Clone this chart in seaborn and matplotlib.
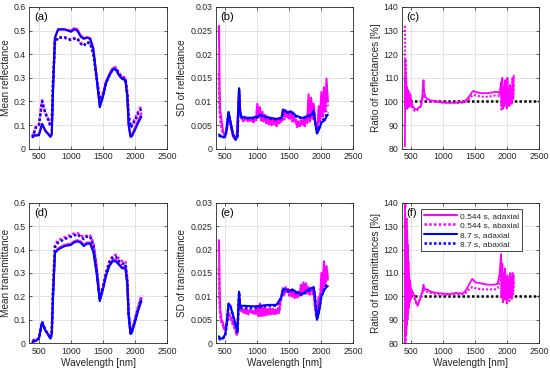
import numpy as np
import pandas as pd
import matplotlib
matplotlib.use("Agg")
import matplotlib.pyplot as plt
import seaborn as sns

# ---------------- data ----------------
wl_m = [400, 450, 500, 550, 600, 650, 680, 700, 720, 750, 800, 900, 1000, 1050, 1100,
        1150, 1200, 1250, 1300, 1350, 1400, 1450, 1500, 1550, 1600, 1650, 1700, 1750,
        1800, 1850, 1880, 1900, 1930, 1950, 2000, 2050, 2100]

refl_blue_ad = [0.055, 0.055, 0.057, 0.105, 0.075, 0.06, 0.05, 0.06, 0.25, 0.47, 0.505, 0.505,
                0.495, 0.505, 0.50, 0.475, 0.465, 0.47, 0.465, 0.42, 0.30, 0.175, 0.22, 0.28,
                0.31, 0.335, 0.335, 0.31, 0.295, 0.29, 0.22, 0.10, 0.05, 0.052, 0.08, 0.11, 0.135]
refl_mag_ad = [0.06, 0.058, 0.06, 0.105, 0.078, 0.062, 0.052, 0.062, 0.25, 0.47, 0.505, 0.505,
               0.50, 0.51, 0.505, 0.48, 0.468, 0.472, 0.468, 0.425, 0.305, 0.18, 0.225, 0.285,
               0.315, 0.34, 0.34, 0.315, 0.30, 0.295, 0.225, 0.105, 0.055, 0.058, 0.088, 0.12, 0.15]
refl_blue_ab = [0.045, 0.09, 0.10, 0.20, 0.15, 0.12, 0.095, 0.10, 0.28, 0.45, 0.47, 0.47,
                0.46, 0.465, 0.465, 0.445, 0.435, 0.45, 0.445, 0.40, 0.30, 0.205, 0.23, 0.28,
                0.31, 0.335, 0.34, 0.315, 0.30, 0.295, 0.23, 0.14, 0.09, 0.095, 0.12, 0.15, 0.17]
refl_mag_ab = [0.05, 0.092, 0.102, 0.205, 0.152, 0.122, 0.098, 0.102, 0.28, 0.45, 0.472, 0.472,
               0.462, 0.468, 0.468, 0.448, 0.438, 0.452, 0.448, 0.405, 0.305, 0.21, 0.235, 0.285,
               0.315, 0.34, 0.345, 0.32, 0.305, 0.30, 0.235, 0.145, 0.095, 0.10, 0.128, 0.158, 0.182]

tran_blue_ad = [0.005, 0.01, 0.02, 0.09, 0.055, 0.035, 0.02, 0.04, 0.20, 0.385, 0.40, 0.415,
                0.42, 0.43, 0.435, 0.43, 0.415, 0.425, 0.425, 0.39, 0.30, 0.18, 0.23, 0.29,
                0.33, 0.35, 0.35, 0.335, 0.32, 0.32, 0.25, 0.12, 0.04, 0.045, 0.09, 0.14, 0.18]
tran_mag_ad = [0.008, 0.012, 0.022, 0.09, 0.056, 0.036, 0.022, 0.042, 0.205, 0.39, 0.405, 0.42,
               0.425, 0.435, 0.44, 0.435, 0.42, 0.43, 0.43, 0.395, 0.305, 0.185, 0.235, 0.295,
               0.335, 0.355, 0.357, 0.34, 0.325, 0.325, 0.255, 0.125, 0.042, 0.048, 0.095, 0.145, 0.19]
tran_blue_ab = [0.01, 0.012, 0.02, 0.09, 0.055, 0.035, 0.02, 0.04, 0.22, 0.41, 0.43, 0.445,
                0.455, 0.46, 0.465, 0.455, 0.445, 0.455, 0.455, 0.42, 0.32, 0.19, 0.24, 0.30,
                0.345, 0.365, 0.37, 0.35, 0.34, 0.34, 0.265, 0.13, 0.045, 0.05, 0.10, 0.15, 0.195]
tran_mag_ab = [0.015, 0.014, 0.022, 0.092, 0.057, 0.037, 0.022, 0.042, 0.225, 0.42, 0.44, 0.452,
               0.462, 0.468, 0.47, 0.462, 0.452, 0.46, 0.46, 0.428, 0.33, 0.195, 0.245, 0.305,
               0.35, 0.372, 0.378, 0.36, 0.35, 0.35, 0.275, 0.135, 0.048, 0.055, 0.105, 0.158, 0.205]

# SD: early part + noisy part (760..2100 every 20 nm)
wl_sd_early = [400, 405, 410, 420, 440, 460, 480, 500, 520, 550, 570, 600, 630, 660, 680,
               700, 715, 730, 750]
wl_sd_noisy = list(range(760, 2101, 20))

sdR_mag_ad = [0.026, 0.020, 0.012, 0.008, 0.006, 0.004, 0.003, 0.003, 0.004, 0.0075, 0.006, 0.004,
              0.0025, 0.002, 0.003, 0.008, 0.012, 0.008, 0.0066,
              0.0066, 0.0060, 0.0068, 0.0062, 0.0065, 0.0058, 0.0066, 0.0061, 0.0064, 0.0057, 0.0066, 0.0062,
              0.0095, 0.0070, 0.0088, 0.0062, 0.0078, 0.0058, 0.0072, 0.0056, 0.0068, 0.0055,
              0.0066, 0.0052, 0.0064, 0.0055, 0.0063, 0.0050, 0.0062, 0.0054, 0.0065, 0.0058,
              0.0080, 0.0068, 0.0082, 0.0070, 0.0078, 0.0066, 0.0080, 0.0064, 0.0070, 0.0060,
              0.0062, 0.0050, 0.0058, 0.0048, 0.0060, 0.0052, 0.0064, 0.0050, 0.0066, 0.0058,
              0.0115, 0.0062, 0.0108, 0.0070, 0.0095, 0.0060, 0.0050, 0.0045, 0.0090, 0.0060,
              0.0120, 0.0070, 0.0130, 0.0080, 0.0148, 0.0100]
sdR_mag_ab = [0.016, 0.012, 0.008, 0.006, 0.0045, 0.0035, 0.003, 0.003, 0.004, 0.007, 0.0058, 0.0038,
              0.0024, 0.0019, 0.0028, 0.0075, 0.0115, 0.0078, 0.0064,
              0.0064, 0.0058, 0.0065, 0.0060, 0.0063, 0.0056, 0.0064, 0.0059, 0.0062, 0.0056, 0.0064, 0.0060,
              0.0085, 0.0065, 0.0078, 0.0060, 0.0070, 0.0056, 0.0068, 0.0054, 0.0064, 0.0052,
              0.0060, 0.0050, 0.0060, 0.0052, 0.0060, 0.0048, 0.0058, 0.0052, 0.0062, 0.0056,
              0.0072, 0.0062, 0.0075, 0.0064, 0.0072, 0.0060, 0.0070, 0.0058, 0.0064, 0.0054,
              0.0056, 0.0046, 0.0054, 0.0045, 0.0056, 0.0048, 0.0060, 0.0048, 0.0062, 0.0055,
              0.0100, 0.0058, 0.0098, 0.0064, 0.0088, 0.0055, 0.0046, 0.0042, 0.0080, 0.0055,
              0.0110, 0.0065, 0.0115, 0.0075, 0.0125, 0.0090]

wl_sd_blue = [400, 420, 450, 480, 500, 520, 550, 580, 620, 660, 690, 705, 715, 730, 750, 800,
              900, 1000, 1050, 1100, 1200, 1300, 1380, 1400, 1450, 1500, 1550, 1600, 1700,
              1800, 1850, 1880, 1900, 1930, 1960, 2000, 2050, 2080, 2100]
sdR_blue_ad = [0.003, 0.0028, 0.0025, 0.0025, 0.0027, 0.004, 0.0078, 0.0058, 0.003, 0.002, 0.0025,
               0.009, 0.0128, 0.008, 0.0067, 0.0066, 0.0065, 0.0068, 0.0072, 0.0069, 0.0065, 0.0063,
               0.0066, 0.0083, 0.0078, 0.0078, 0.0077, 0.0070, 0.0065, 0.0070, 0.0072, 0.0080,
               0.0060, 0.0032, 0.0040, 0.0055, 0.0060, 0.0068, 0.0072]
sdR_blue_ab = [0.0028, 0.0026, 0.0024, 0.0024, 0.0026, 0.0038, 0.0075, 0.0056, 0.0029, 0.0019,
               0.0024, 0.0088, 0.0125, 0.0078, 0.0066, 0.0065, 0.0064, 0.0066, 0.0070, 0.0068,
               0.0064, 0.0062, 0.0065, 0.0080, 0.0076, 0.0076, 0.0075, 0.0068, 0.0064, 0.0068,
               0.0070, 0.0078, 0.0058, 0.0034, 0.0042, 0.0058, 0.0064, 0.0072, 0.0078]

sdT_mag_ad = [0.022, 0.018, 0.012, 0.007, 0.005, 0.0045, 0.003, 0.003, 0.004, 0.0065, 0.006, 0.005,
              0.004, 0.003, 0.0018, 0.006, 0.010, 0.0075, 0.0072,
              0.0072, 0.0066, 0.0073, 0.0067, 0.0071, 0.0065, 0.0072, 0.0066, 0.0070, 0.0064, 0.0071, 0.0066,
              0.0080, 0.0062, 0.0085, 0.0058, 0.0078, 0.0062, 0.0076, 0.0060, 0.0074, 0.0062,
              0.0075, 0.0065, 0.0074, 0.0063, 0.0072, 0.0064, 0.0075, 0.0068, 0.0090, 0.0105,
              0.0118, 0.0108, 0.0120, 0.0110, 0.0116, 0.0106, 0.0114, 0.0104, 0.0112, 0.0100,
              0.0108, 0.0098, 0.0110, 0.0102, 0.0125, 0.0108, 0.0130, 0.0112, 0.0128, 0.0110,
              0.0120, 0.0108, 0.0118, 0.0110, 0.0115, 0.0080, 0.0060, 0.0070, 0.0100, 0.0090,
              0.0150, 0.0110, 0.0175, 0.0125, 0.0165, 0.0140]
sdT_mag_ab = [0.016, 0.012, 0.009, 0.006, 0.0045, 0.004, 0.003, 0.003, 0.0038, 0.006, 0.0056, 0.0046,
              0.0036, 0.0028, 0.0017, 0.0055, 0.0095, 0.0072, 0.0069,
              0.0069, 0.0064, 0.0070, 0.0064, 0.0068, 0.0062, 0.0069, 0.0063, 0.0067, 0.0061, 0.0068, 0.0063,
              0.0075, 0.0058, 0.0080, 0.0056, 0.0074, 0.0059, 0.0072, 0.0058, 0.0070, 0.0060,
              0.0071, 0.0062, 0.0070, 0.0060, 0.0069, 0.0061, 0.0072, 0.0065, 0.0086, 0.0100,
              0.0114, 0.0104, 0.0116, 0.0106, 0.0112, 0.0102, 0.0110, 0.0100, 0.0108, 0.0097,
              0.0104, 0.0095, 0.0106, 0.0098, 0.0118, 0.0104, 0.0122, 0.0108, 0.0120, 0.0106,
              0.0116, 0.0104, 0.0114, 0.0106, 0.0110, 0.0076, 0.0058, 0.0068, 0.0095, 0.0086,
              0.0140, 0.0105, 0.0160, 0.0118, 0.0155, 0.0130]
sdT_blue_ad = [0.0015, 0.001, 0.001, 0.0015, 0.002, 0.004, 0.0085, 0.008, 0.006, 0.004, 0.0025,
               0.008, 0.011, 0.008, 0.008, 0.008, 0.0079, 0.0079, 0.008, 0.0081, 0.0082, 0.0082,
               0.010, 0.0115, 0.0115, 0.0112, 0.0115, 0.0110, 0.0105, 0.0115, 0.0118, 0.0120,
               0.0100, 0.0050, 0.0065, 0.0100, 0.0115, 0.0120, 0.0122]
sdT_blue_ab = [0.0012, 0.0008, 0.0009, 0.0013, 0.0018, 0.0038, 0.0082, 0.0078, 0.0058, 0.0038,
               0.0024, 0.0078, 0.0108, 0.0076, 0.0075, 0.0075, 0.0075, 0.0076, 0.0078, 0.0079,
               0.0080, 0.0080, 0.0098, 0.0112, 0.0112, 0.0110, 0.0113, 0.0108, 0.0103, 0.0112,
               0.0115, 0.0118, 0.0098, 0.0052, 0.0068, 0.0102, 0.0118, 0.0124, 0.0126]

wl_r = [400, 405, 410, 415, 420, 425, 430, 435, 440, 445, 450, 455, 460, 465, 470, 475, 480, 485,
        490, 495, 500,
        520, 550, 580, 600, 620, 650, 670, 690, 700, 720, 750, 800, 900, 1000, 1100, 1200, 1300,
        1350, 1400, 1450, 1470, 1500, 1600, 1700, 1800, 1850, 1880,
        1900, 1910, 1920, 1930, 1940, 1950, 1960, 1970, 1980, 1990, 2000, 2010, 2020, 2030, 2040,
        2050, 2060, 2070, 2080, 2090, 2100]
ratioR_ad = [81, 112, 98, 108, 97, 106, 99, 104, 98, 105, 99, 103, 98, 104, 99, 102, 98, 103, 99, 101, 100,
             98, 97, 96.5, 97, 97.5, 98, 102, 109, 104, 102, 101, 100.5, 100, 99.5, 99.5, 99.5, 99.8,
             100.5, 102, 104, 104.5, 104, 103.5, 103.5, 104, 104, 103.5,
             108, 98, 110, 97, 106, 99, 109, 100, 104, 97, 110, 99, 105, 98, 107, 100, 103, 99, 110, 101, 111]
ratioR_ab = [132, 100, 118, 97, 110, 98, 106, 97, 104, 98, 103, 97, 102, 98, 101, 99, 102, 98, 101, 100, 100,
             97, 96, 96, 96.5, 97, 98, 100.5, 103, 102, 101, 100.5, 100, 99.8, 99.5, 99.3, 99.3, 99.5,
             100, 101, 102.5, 102.8, 102.5, 102, 102, 102.5, 102.5, 102,
             104, 96, 106, 99, 102, 98, 105, 99, 101, 98, 106, 99, 103, 100, 104, 99, 102, 100, 106, 101, 107]
ratioT_ad = [80, 140, 84, 138, 86, 135, 88, 128, 90, 122, 93, 115, 95, 110, 97, 107, 98, 105, 99, 103, 103,
             102, 100, 97, 96, 98, 100, 102, 105, 103.5, 103, 103, 102, 101.5, 101.2, 101, 101.5, 101.2,
             102.5, 105, 107.5, 107, 106, 105.5, 105, 105, 105.5, 110,
             118, 100, 114, 98, 110, 99, 112, 100, 108, 98, 109, 101, 107, 99, 110, 102, 108, 100, 110, 103, 109]
ratioT_ab = [85, 140, 80, 136, 84, 130, 88, 125, 92, 118, 95, 112, 97, 108, 98, 105, 99, 104, 100, 102, 102,
             101, 99, 97, 96.5, 98, 99.5, 101, 103, 102.5, 102, 102, 101.5, 101, 100.8, 100.8, 101, 101,
             101.5, 103, 104, 104, 103.5, 103, 103, 103, 103.5, 107,
             112, 99, 108, 97, 106, 98, 108, 99, 105, 97, 106, 100, 105, 98, 107, 100, 104, 99, 107, 101, 106]
wl_ref = [400, 2500]
ratio_ref = [100, 100]

labels = ["0.544 s, adaxial", "0.544 s, abaxial", "8.7 s, adaxial", "8.7 s, abaxial"]

# ---------------- style ----------------
sns.set_theme(style="whitegrid")
plt.rcParams.update({
    "font.family": ["Liberation Sans", "DejaVu Sans"],
    "axes.edgecolor": "#262626",
    "axes.linewidth": 0.6,
    "grid.color": "#dedede",
    "grid.linewidth": 0.6,
    "xtick.color": "#262626",
    "ytick.color": "#262626",
    "xtick.direction": "in",
    "ytick.direction": "in",
    "xtick.major.size": 2.0,
    "ytick.major.size": 2.0,
    "xtick.bottom": True,
    "ytick.left": True,
    "xtick.labelsize": 6.3,
    "ytick.labelsize": 6.3,
    "axes.labelsize": 7.2,
    "axes.labelcolor": "#262626",
})

MAG = "#ff00ff"
BLU = "#0000ff"
DOT = (0, (1, 0.9))
LW = 1.5

fig = plt.figure(figsize=(5.5, 3.75), dpi=100)
W = 0.2504
lefts = [0.0533, 0.3922, 0.7304]
rows = [(0.6035, 0.378), (0.0845, 0.375)]
axes = [[fig.add_axes([l, b, W, h]) for l in lefts] for (b, h) in rows]


def draw(ax, x_ma, y_ma, x_mb, y_mb, x_ba, y_ba, x_bb, y_bb):
    sns.lineplot(x=x_ma, y=y_ma, ax=ax, color=MAG, lw=LW, label=labels[0], sort=False)
    sns.lineplot(x=x_mb, y=y_mb, ax=ax, color=MAG, lw=LW + 0.3, linestyle=DOT, label=labels[1], sort=False)
    sns.lineplot(x=x_ba, y=y_ba, ax=ax, color=BLU, lw=LW, label=labels[2], sort=False)
    sns.lineplot(x=x_bb, y=y_bb, ax=ax, color=BLU, lw=LW + 0.3, linestyle=DOT, label=labels[3], sort=False)


wl_sd = wl_sd_early + wl_sd_noisy

draw(axes[0][0], wl_m, refl_mag_ad, wl_m, refl_mag_ab, wl_m, refl_blue_ad, wl_m, refl_blue_ab)
draw(axes[1][0], wl_m, tran_mag_ad, wl_m, tran_mag_ab, wl_m, tran_blue_ad, wl_m, tran_blue_ab)
draw(axes[0][1], wl_sd, sdR_mag_ad, wl_sd, sdR_mag_ab, wl_sd_blue, sdR_blue_ad, wl_sd_blue, sdR_blue_ab)
draw(axes[1][1], wl_sd, sdT_mag_ad, wl_sd, sdT_mag_ab, wl_sd_blue, sdT_blue_ad, wl_sd_blue, sdT_blue_ab)

for row, (rad, rab) in enumerate([(ratioR_ad, ratioR_ab), (ratioT_ad, ratioT_ab)]):
    ax = axes[row][2]
    sns.lineplot(x=wl_ref, y=ratio_ref, ax=ax, color="black", lw=LW + 0.3, linestyle=DOT, sort=False)
    sns.lineplot(x=wl_r, y=rad, ax=ax, color=MAG, lw=LW - 0.2, sort=False)
    sns.lineplot(x=wl_r, y=rab, ax=ax, color=MAG, lw=LW, linestyle=DOT, sort=False)

ylabels = [["Mean reflectance", "SD of reflectance", "Ratio of reflectances [%]"],
           ["Mean transmittance", "SD of transmittance", "Ratio of transmittances [%]"]]
letters = [["(a)", "(b)", "(c)"], ["(d)", "(e)", "(f)"]]
yl = [(0, 0.6, [0, 0.1, 0.2, 0.3, 0.4, 0.5, 0.6], ["0", "0.1", "0.2", "0.3", "0.4", "0.5", "0.6"]),
      (0, 0.03, [0, 0.005, 0.01, 0.015, 0.02, 0.025, 0.03],
       ["0", "0.005", "0.01", "0.015", "0.02", "0.025", "0.03"]),
      (80, 140, [80, 90, 100, 110, 120, 130, 140], ["80", "90", "100", "110", "120", "130", "140"])]

for r in range(2):
    for c in range(3):
        ax = axes[r][c]
        lo, hi, ticks, tl = yl[c]
        ax.set_xlim(350, 2500)
        ax.set_ylim(lo, hi)
        ax.set_xticks([500, 1000, 1500, 2000, 2500])
        ax.set_xticklabels(["500", "1000", "1500", "2000", "2500"])
        ax.set_yticks(ticks)
        ax.set_yticklabels(tl)
        ax.tick_params(axis="both", pad=2.5, top=True, right=True, width=0.5)
        ax.set_ylabel(ylabels[r][c], labelpad=2)
        ax.set_xlabel("Wavelength [nm]" if r == 1 else "", labelpad=1.5)
        for s in ax.spines.values():
            s.set_visible(True)
            s.set_color("#262626")
            s.set_linewidth(0.6)
        ax.text(0.035, 0.965, letters[r][c], transform=ax.transAxes, ha="left", va="top",
                fontsize=8, color="black",
                bbox=dict(facecolor="white", edgecolor="none", pad=0.4))
        leg = ax.get_legend()
        if leg is not None:
            leg.remove()

# legend in (f)
ax = axes[1][2]
handles = [
    plt.Line2D([], [], color=MAG, lw=LW),
    plt.Line2D([], [], color=MAG, lw=LW + 0.3, linestyle=DOT),
    plt.Line2D([], [], color=BLU, lw=LW),
    plt.Line2D([], [], color=BLU, lw=LW + 0.3, linestyle=DOT),
]
leg = ax.legend(handles, labels, loc="upper right", bbox_to_anchor=(0.876, 0.955), fontsize=6,
                frameon=True, fancybox=False, framealpha=1, edgecolor="#262626",
                handlelength=4.0, handletextpad=0.4, borderpad=0.35, labelspacing=0.2,
                borderaxespad=0)
leg.get_frame().set_linewidth(0.6)

fig.savefig("out.png", dpi=100)
